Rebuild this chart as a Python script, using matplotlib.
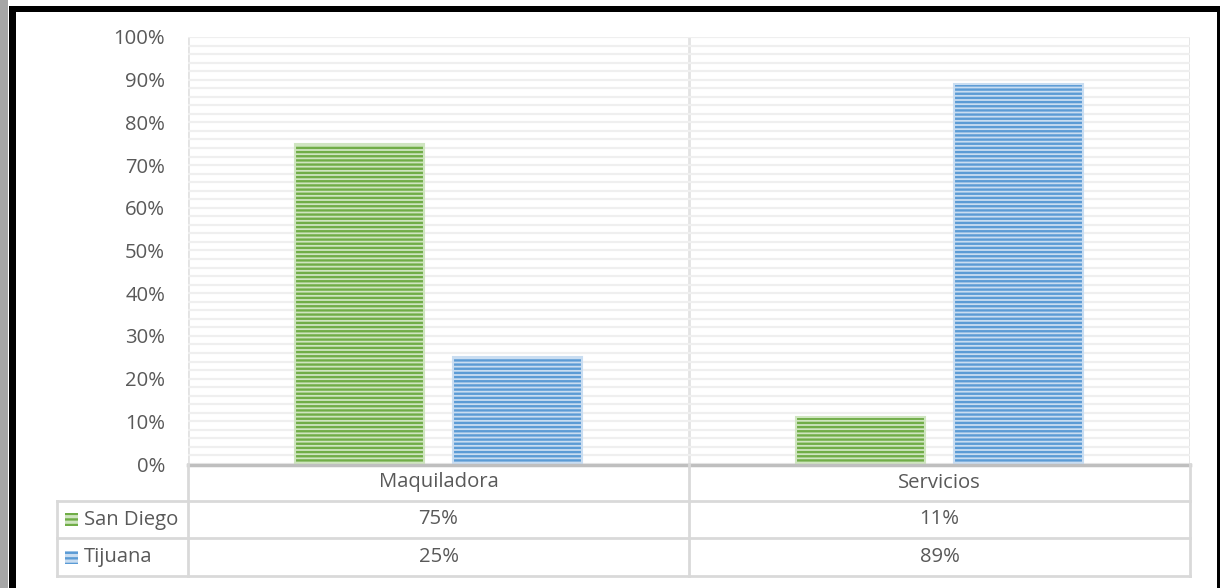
import matplotlib
matplotlib.use('Agg')
import matplotlib.pyplot as plt
from matplotlib.patches import Rectangle
from matplotlib.ticker import MultipleLocator, PercentFormatter

categories = ["Maquiladora", "Servicios"]
series = ["San Diego", "Tijuana"]
san_diego = [0.75, 0.11]
tijuana = [0.25, 0.89]
values = [san_diego, tijuana]
colors = ["#70AD47", "#5B9BD5"]
light = ["#CFE5C0", "#C9DDF1"]

plt.rcParams['font.family'] = ['Open Sans', 'DejaVu Sans']
plt.rcParams['hatch.linewidth'] = 1.7

W, H = 1220, 588
fig = plt.figure(figsize=(W / 100, H / 100), dpi=100)
fig.patch.set_facecolor('white')

def fx(px):
    return px / W

def fy(py):
    return 1 - py / H

# page frame
fig.add_artist(Rectangle((0, 0), fx(8), 1, transform=fig.transFigure, color="#A6A6A6", lw=0))
fig.add_artist(Rectangle((fx(9), 0), fx(7), fy(6), transform=fig.transFigure, color="black", lw=0))
fig.add_artist(Rectangle((fx(9), fy(12)), 1, fy(6) - fy(12), transform=fig.transFigure, color="black", lw=0))
fig.add_artist(Rectangle((fx(1217), 0), fx(3), fy(6), transform=fig.transFigure, color="black", lw=0))

left, right, top, bottom = 188, 1190, 37, 464
ax = fig.add_axes([fx(left), fy(bottom), fx(right - left), fy(top) - fy(bottom)])

x = range(len(categories))
offs = [-0.157, 0.158]
width = 0.2575
for i, s in enumerate(series):
    pos = [xi + offs[i] for xi in x]
    ax.bar(pos, values[i], width, color=light[i], edgecolor=colors[i], linewidth=0,
           hatch='----', zorder=3)
    ax.bar(pos, values[i], width, fill=False, edgecolor=light[i], linewidth=1.5, zorder=4)

ax.set_xlim(-0.5, len(categories) - 0.5)
ax.set_ylim(0, 1)
ax.yaxis.set_major_locator(MultipleLocator(0.1))
ax.yaxis.set_minor_locator(MultipleLocator(0.02))
ax.yaxis.set_major_formatter(PercentFormatter(1.0, decimals=0))
ax.grid(axis='y', which='both', color='#EFEFEF', linewidth=1.6, zorder=0)
ax.tick_params(axis='y', which='both', length=0, pad=16.5, labelsize=14.6, labelcolor='#595959')
ax.tick_params(axis='x', length=0, labelbottom=False)
for sp in ['top', 'right', 'left', 'bottom']:
    ax.spines[sp].set_visible(False)
for xv in [-0.5, 0.5, 1.5]:
    ax.axvline(xv, color='#E3E3E3', linewidth=2, zorder=1)

# data table below the axis
grid_c = '#D9D9D9'
tr = fig.transFigure
row_y = [464, 501, 538, 576]
col_x = [57, 188, 689, 1190]

def hline(y, x0, x1, c=grid_c, lw=2):
    fig.add_artist(plt.Line2D([fx(x0), fx(x1)], [fy(y), fy(y)], transform=tr, color=c, lw=lw))

def vline(xp, y0, y1, c=grid_c, lw=2):
    fig.add_artist(plt.Line2D([fx(xp), fx(xp)], [fy(y0), fy(y1)], transform=tr, color=c, lw=lw))

hline(465, left, right, c='#BFBFBF', lw=2.5)
hline(row_y[1], col_x[0], right)
hline(row_y[2], col_x[0], right)
hline(row_y[3], col_x[0], right)
vline(col_x[0], row_y[1], row_y[3])
for xp in col_x[1:]:
    vline(xp, row_y[0], row_y[3])

txt_kw = dict(transform=tr, fontsize=14.6, color='#595959', va='center')
for j, c in enumerate(categories):
    fig.text(fx((col_x[j + 1] + col_x[j + 2]) / 2), fy((row_y[0] + row_y[1]) / 2), c, ha='center', **txt_kw)
for i, s in enumerate(series):
    yc = (row_y[i + 1] + row_y[i + 2]) / 2
    fig.add_artist(Rectangle((fx(65), fy(yc + 6.5)), fx(13), fy(0) - fy(13), transform=tr,
                             facecolor=light[i], edgecolor=colors[i], hatch='---', lw=0))
    fig.text(fx(84), fy(yc), s, ha='left', **txt_kw)
    for j in range(len(categories)):
        fig.text(fx((col_x[j + 1] + col_x[j + 2]) / 2), fy(yc), f"{values[i][j]:.0%}", ha='center', **txt_kw)

fig.savefig('out.png', dpi=100)
